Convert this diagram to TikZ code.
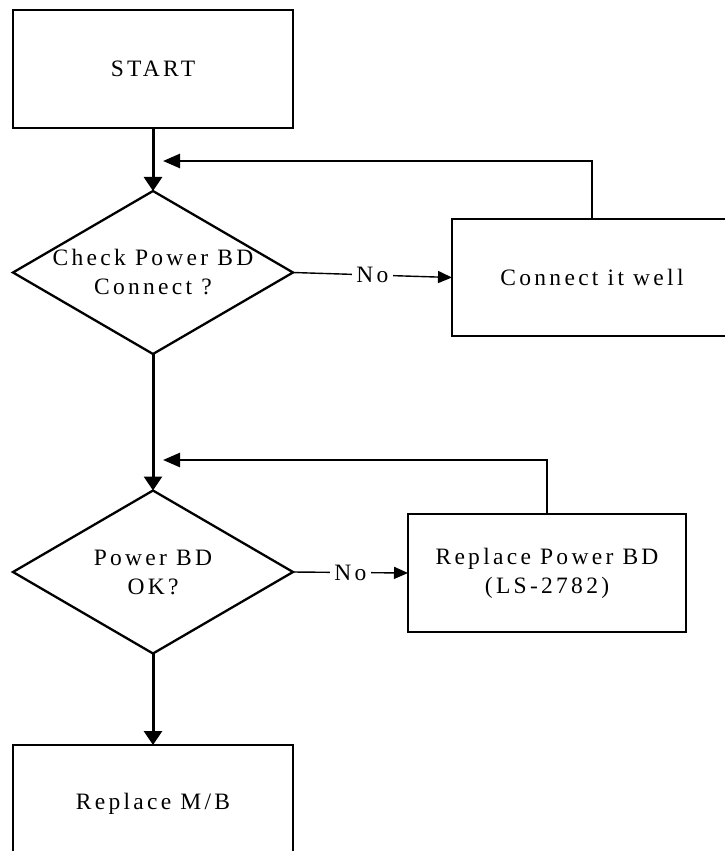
\documentclass[tikz,border=0pt]{standalone}
\usepackage{fontspec}
\newfontfamily\flowfont[LetterSpace=14]{Liberation Serif}
\usetikzlibrary{shapes.geometric,arrows.meta}

\begin{document}
\begin{tikzpicture}[x=1pt,y=-1pt,
  every node/.style={font=\flowfont\fontsize{23.5}{29}\selectfont},
  box/.style={draw,line width=2.6pt,minimum width=280pt,minimum height=118pt,inner sep=0pt,outer sep=0pt,align=center},
  dia/.style={draw,diamond,line width=2.3pt,minimum width=280pt,minimum height=163pt,inner sep=0pt,outer sep=0pt},
  txt/.style={align=center,inner sep=0pt},
  flow/.style={line width=3pt,-{Triangle[length=14pt,width=18pt]}},
  back/.style={line width=2.6pt,-{Triangle[length=17pt,width=14pt]}},
  no/.style={line width=1.4pt,-{Triangle[length=14pt,width=12pt]}},
  nolabel/.style={fill=white,inner sep=4pt}]
  \useasboundingbox (0,0) rectangle (724,851);
  % left column
  \node[box] (start) at (153,69) {START};
  \node[dia] (d1) at (153,272.5) {};
  \node[txt] (d1t) at (d1) {Check Power BD\\Connect ?};
  \node[dia] (d2) at (153,572) {};
  \node[txt] (d2t) at (d2) {Power BD\\OK?};
  \node[box] (mb) at (153,804) {Replace M/B};
  % right column
  \node[box,minimum height=117pt] (conn) at (592,277.5) {Connect it well};
  \node[box,minimum width=278pt] (repl) at (547,573) {Replace Power BD\\(LS-2782)};
  \coordinate (j1) at (163,161);
  \coordinate (j2) at (163,460);
  % connectors
  \draw[flow] (start) -- (d1);
  \draw[flow] (d1) -- (d2);
  \draw[flow] (d2) -- (mb);
  \draw[no] (d1.east) -- node[nolabel] (no1) {No} (conn.west);
  \draw[no] (d2.east) -- node[nolabel] (no2) {No} (repl.west);
  \draw[back] (conn.north) |- (j1);
  \draw[back] (repl.north) |- (j2);
\end{tikzpicture}
\end{document}
